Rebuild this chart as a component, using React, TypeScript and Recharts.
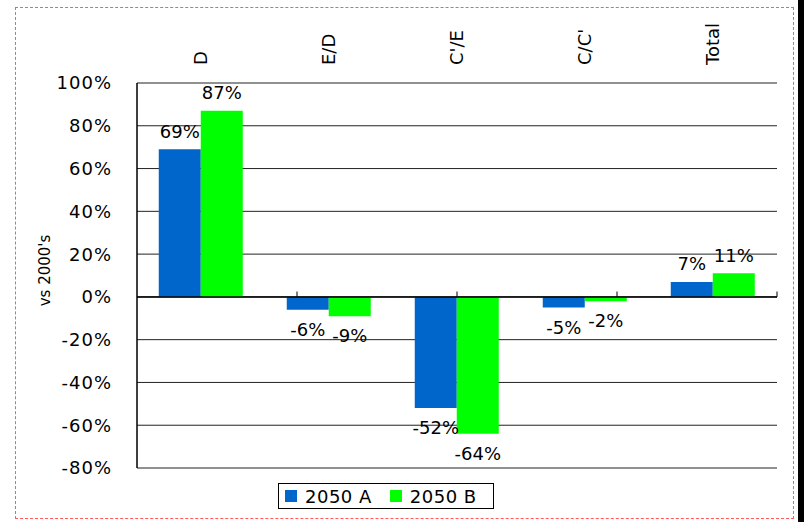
import {
  Bar,
  BarChart,
  CartesianGrid,
  LabelList,
  Legend,
  ReferenceArea,
  ReferenceLine,
  XAxis,
  YAxis,
} from 'recharts';

const categories = ['D', 'E/D', "C'/E", "C/C'", 'Total'];
const seriesA = [69, -6, -52, -5, 7];
const seriesB = [87, -9, -64, -2, 11];
const yTicks = [-80, -60, -40, -20, 0, 20, 40, 60, 80, 100];

const data = categories.map((name, i) => ({ name, a: seriesA[i], b: seriesB[i] }));
// boundaries between categories, on a 0..n numeric axis
const boundaries = categories.slice(1).map((_, i) => i + 1);

const FONT = '"DejaVu Sans", Verdana, sans-serif';
const BLUE = '#0066cc';
const GREEN = '#00ff00';

function CategoryTick(props: any) {
  const { x, y, payload } = props;
  return (
    <text
      x={x}
      y={y}
      dy="0.35em"
      transform={`rotate(-90, ${x}, ${y})`}
      textAnchor="start"
      fontFamily={FONT}
      fontSize={18}
      fill="#000"
    >
      {payload.value}
    </text>
  );
}

function ValueLabel(props: any) {
  const x = Number(props.x);
  const y = Number(props.y);
  const width = Number(props.width);
  const height = Number(props.height);
  const value = Number(props.value);
  const top = Math.min(y, y + height);
  const bottom = Math.max(y, y + height);
  const cy = value >= 0 ? top - 18 : bottom + 20;
  return (
    <text
      x={x + width / 2}
      y={cy}
      dy="0.35em"
      textAnchor="middle"
      fontFamily={FONT}
      fontSize={18}
      fill="#000"
    >
      {value}%
    </text>
  );
}

function AxisTitle(props: any) {
  const vb = props.viewBox || {};
  const cx = 45;
  const cy = vb.y + vb.height / 2 - 5;
  return (
    <text
      x={cx}
      y={cy}
      dy="0.35em"
      transform={`rotate(-90, ${cx}, ${cy})`}
      textAnchor="middle"
      fontFamily={FONT}
      fontSize={15}
      fill="#000"
    >
      vs 2000's
    </text>
  );
}

function LegendBox() {
  const item = (color: string, label: string, gap: number) => (
    <span style={{ display: 'inline-flex', alignItems: 'center', marginRight: gap }}>
      <span style={{ width: 12, height: 12, background: color, marginRight: 8 }} />
      {label}
    </span>
  );
  return (
    <div
      style={{
        display: 'inline-flex',
        alignItems: 'center',
        boxSizing: 'border-box',
        width: 216,
        height: 26,
        border: '1px solid #000',
        padding: '0 0 0 6px',
        fontFamily: FONT,
        fontSize: 18,
        letterSpacing: 0.5,
        color: '#000',
        background: '#fff',
      }}
    >
      {item(BLUE, '2050 A', 18)}
      {item(GREEN, '2050 B', 0)}
    </div>
  );
}

export default function App() {
  return (
    <div style={{ position: 'absolute', left: 0, top: 0, width: 804, height: 522, background: '#fff' }}>
      <div
        style={{
          position: 'absolute',
          left: 15,
          top: 7,
          width: 779,
          height: 512,
          border: '1px dashed #ff5b5b',
          boxSizing: 'border-box',
        }}
      />
      <div style={{ position: 'absolute', left: 798, top: 0, width: 6, height: 522, background: '#000' }} />
      <BarChart
        width={804}
        height={522}
        data={data}
        margin={{ top: 8, right: 27, bottom: 54, left: 0 }}
        barCategoryGap="17%"
        barGap={0}
      >
        <CartesianGrid vertical={false} stroke="#222" />
        <XAxis
          xAxisId="cat"
          dataKey="name"
          orientation="top"
          height={75}
          axisLine={false}
          tickLine={false}
          tickSize={0}
          tickMargin={18}
          interval={0}
          tick={<CategoryTick />}
        />
        <XAxis xAxisId="sep" type="number" domain={[0, categories.length]} hide />
        <YAxis
          domain={[-80, 100]}
          ticks={yTicks}
          interval={0}
          width={137}
          tickSize={0}
          tickMargin={25}
          tickFormatter={(v: number) => `${v}%`}
          tick={{ fontFamily: FONT, fontSize: 18, fill: '#000', letterSpacing: 1 }}
          axisLine={{ stroke: '#000' }}
          tickLine={false}
          label={<AxisTitle />}
        />
        <Bar xAxisId="cat" dataKey="a" name="2050 A" fill={BLUE} isAnimationActive={false}>
          <LabelList dataKey="a" content={<ValueLabel />} />
        </Bar>
        <Bar xAxisId="cat" dataKey="b" name="2050 B" fill={GREEN} isAnimationActive={false}>
          <LabelList dataKey="b" content={<ValueLabel />} />
        </Bar>
        <ReferenceArea
          xAxisId="sep"
          x1={0}
          x2={categories.length}
          y1={-80}
          y2={100}
          fill="none"
          stroke="#a0a0a0"
          strokeWidth={1.5}
        />
        <ReferenceLine xAxisId="sep" y={0} stroke="#000" strokeWidth={1.5} />
        {boundaries.map((b) => (
          <ReferenceLine
            key={b}
            xAxisId="sep"
            segment={[
              { x: b, y: 0 },
              { x: b, y: 2.5 },
            ]}
            stroke="#000"
          />
        ))}
        <ReferenceLine xAxisId="sep" segment={[{ x: 0, y: -80 }, { x: 0, y: 100 }]} stroke="#000" />
        <Legend
          layout="horizontal"
          verticalAlign="middle"
          align="center"
          wrapperStyle={{ left: 278, top: 483, width: 'auto', height: 'auto' }}
          content={<LegendBox />}
        />
      </BarChart>
    </div>
  );
}
